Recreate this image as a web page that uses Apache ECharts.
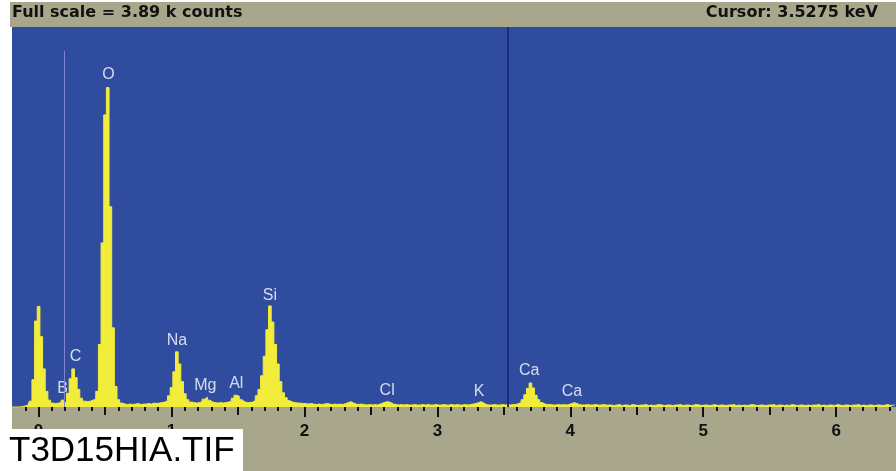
<!DOCTYPE html>
<html>
<head>
<meta charset="utf-8">
<script src="https://cdn.jsdelivr.net/npm/echarts@6/dist/echarts.min.js"></script>
<style>
  html, body { margin: 0; padding: 0; background: #ffffff; }
  #chart { width: 896px; height: 471px; }
</style>
</head>
<body>
<div id="chart"></div>
<script>
// EDS spectrum: 20 eV channels starting at -0.20 keV
const CHANNEL_START_KEV = -0.20;
const CHANNEL_WIDTH_KEV = 0.02;
const FULL_SCALE = 3890;          // counts at the top of the plot
const CURSOR_KEV = 3.5275;
const MARKER_KEV = 0.19;
const MARKER_TOP = 3645;
const X_MIN = -0.2;
const X_MAX = 6.45;

// counts per channel, 25 channels (0.5 keV) per row
const counts = [
  0, 0, 0, 0, 5, 10, 20, 60, 280, 880, 1030, 720, 390, 160, 70, 40, 35, 40, 45, 70, 45, 140, 290, 390, 300,
  180, 90, 60, 55, 60, 70, 80, 160, 640, 1680, 2990, 3270, 2050, 810, 210, 75, 40, 30, 25, 30, 25, 30, 35, 25, 30,
  30, 35, 30, 40, 35, 40, 45, 50, 65, 115, 200, 360, 565, 440, 260, 135, 75, 50, 45, 40, 45, 55, 80, 100, 70,
  50, 45, 40, 45, 40, 45, 50, 60, 90, 120, 110, 75, 55, 45, 45, 50, 65, 115, 180, 320, 520, 790, 1035, 870, 640,
  440, 260, 145, 95, 65, 50, 45, 40, 40, 35, 35, 30, 35, 30, 25, 30, 25, 30, 35, 30, 25, 30, 25, 30, 25,
  35, 45, 55, 40, 30, 25, 30, 25, 20, 25, 20, 25, 20, 30, 40, 50, 55, 45, 30, 25, 20, 25, 20, 25, 20,
  20, 25, 20, 20, 25, 20, 25, 20, 20, 25, 20, 20, 25, 20, 20, 25, 20, 25, 20, 20, 25, 20, 25, 30, 35,
  45, 55, 40, 25, 20, 20, 25, 20, 20, 25, 20, 25, 20, 25, 25, 35, 45, 75, 125, 190, 245, 195, 120, 75, 45,
  30, 25, 25, 20, 20, 25, 20, 25, 20, 25, 35, 45, 35, 25, 20, 20, 25, 20, 20, 25, 20, 20, 25, 20, 20,
  20, 15, 20, 25, 15, 20, 20, 15, 25, 20, 15, 20, 20, 25, 15, 20, 15, 20, 25, 20, 15, 20, 20, 15, 20,
  20, 25, 15, 20, 20, 15, 20, 25, 20, 15, 20, 20, 15, 20, 25, 15, 20, 20, 15, 20, 20, 25, 15, 20, 15,
  20, 15, 20, 25, 20, 15, 20, 20, 15, 20, 20, 25, 15, 20, 20, 15, 20, 15, 25, 20, 15, 20, 20, 15, 20,
  15, 20, 20, 25, 15, 20, 15, 20, 20, 15, 25, 20, 15, 20, 20, 15, 20, 20, 25, 15, 20, 15, 20, 20, 15,
  20, 20, 15, 20, 25, 15, 20, 20
];

// element line labels: name, energy (keV), label height (counts)
const peakNames = ['O', 'C', 'B', 'Na', 'Mg', 'Al', 'Si', 'Cl', 'K', 'Ca', 'Ca'];
const peakKeV = [0.525, 0.277, 0.180, 1.041, 1.254, 1.487, 1.740, 2.622, 3.313, 3.691, 4.012];
const peakLabelY = [3400, 512, 184, 676, 215, 235, 1137, 164, 154, 369, 154];

// axis ticks
const MAJOR_TICKS = [0, 1, 2, 3, 4, 5, 6];
const HALF_TICKS = [0.5, 1.5, 2.5, 3.5, 4.5, 5.5];
const MINOR_TICKS = [];
for (let i = -1; i <= 64; i++) MINOR_TICKS.push(Math.round(i) / 10);

const spectrum = counts.map((c, i) => [+(CHANNEL_START_KEV + i * CHANNEL_WIDTH_KEV).toFixed(2), c]);
const labels = peakNames.map((n, i) => ({ name: n, value: [peakKeV[i], peakLabelY[i]] }));

const BLUE = '#2f4c9f';
const KHAKI = '#a8a78b';
const YELLOW = '#f2ec3a';
const FONT = '"Liberation Sans", Arial, sans-serif';
const WIDE_FONT = '"DejaVu Sans", "Liberation Sans", sans-serif';

function bottomAxis(ticks, len, withLabels) {
  return {
    type: 'value', min: X_MIN, max: X_MAX, position: 'bottom',
    axisLine: { show: false },
    splitLine: { show: false },
    axisTick: { show: true, customValues: ticks, length: len, lineStyle: { color: '#111', width: 2 } },
    axisLabel: withLabels
      ? { show: true, customValues: ticks, margin: 16, color: '#111', fontSize: 17, fontWeight: 'bold', fontFamily: FONT }
      : { show: false }
  };
}

const chart = echarts.init(document.getElementById('chart'), null, { renderer: 'canvas' });
chart.setOption({
  animation: false,
  backgroundColor: KHAKI,
  grid: { left: 12, right: 0, top: 27, bottom: 64, show: true, backgroundColor: BLUE, borderWidth: 0 },
  xAxis: [bottomAxis(MAJOR_TICKS, 10, true), bottomAxis(HALF_TICKS, 8, false), bottomAxis(MINOR_TICKS, 4, false)],
  yAxis: { type: 'value', min: 0, max: FULL_SCALE, show: false },
  series: [
    {
      type: 'line', step: 'middle', data: spectrum, symbol: 'none',
      lineStyle: { color: YELLOW, width: 1 },
      areaStyle: { color: YELLOW, opacity: 1 },
      markLine: {
        silent: true, symbol: 'none', label: { show: false }, animation: false,
        data: [
          { xAxis: CURSOR_KEV, lineStyle: { color: '#1b2c7c', width: 2, type: 'solid' } },
          [
            { coord: [MARKER_KEV, 0], lineStyle: { color: '#8083cf', width: 1, type: 'solid' } },
            { coord: [MARKER_KEV, MARKER_TOP] }
          ]
        ]
      },
      z: 2
    },
    {
      type: 'scatter', data: labels, symbolSize: 0, silent: true,
      label: {
        show: true, position: 'inside', formatter: '{b}',
        color: '#ffffff', fontSize: 16, fontFamily: FONT
      },
      z: 3
    }
  ],
  graphic: [
    { type: 'rect', left: 0, top: 0, shape: { width: 896, height: 2 }, style: { fill: '#ffffff' }, z: 50 },
    { type: 'rect', left: 0, top: 0, shape: { width: 10, height: 471 }, style: { fill: '#ffffff' }, z: 50 },
    { type: 'rect', left: 10, top: 27, shape: { width: 2, height: 444 }, style: { fill: '#ffffff' }, z: 50 },
    {
      type: 'text', left: 12, top: 5, z: 50,
      style: { text: 'Full scale = ' + (FULL_SCALE / 1000).toFixed(2) + ' k counts', fill: '#111', font: 'bold 16px ' + WIDE_FONT }
    },
    {
      type: 'text', right: 18, top: 5, z: 50,
      style: { text: 'Cursor: ' + CURSOR_KEV.toFixed(4) + ' keV', fill: '#111', font: 'bold 16px ' + WIDE_FONT }
    },
    { type: 'rect', left: 0, top: 429, shape: { width: 243, height: 42 }, style: { fill: '#ffffff' }, z: 100 },
    {
      type: 'text', left: 9, top: 434, z: 101,
      style: { text: 'T3D15HIA.TIF', fill: '#000', font: '35px ' + FONT }
    }
  ]
});
</script>
</body>
</html>
